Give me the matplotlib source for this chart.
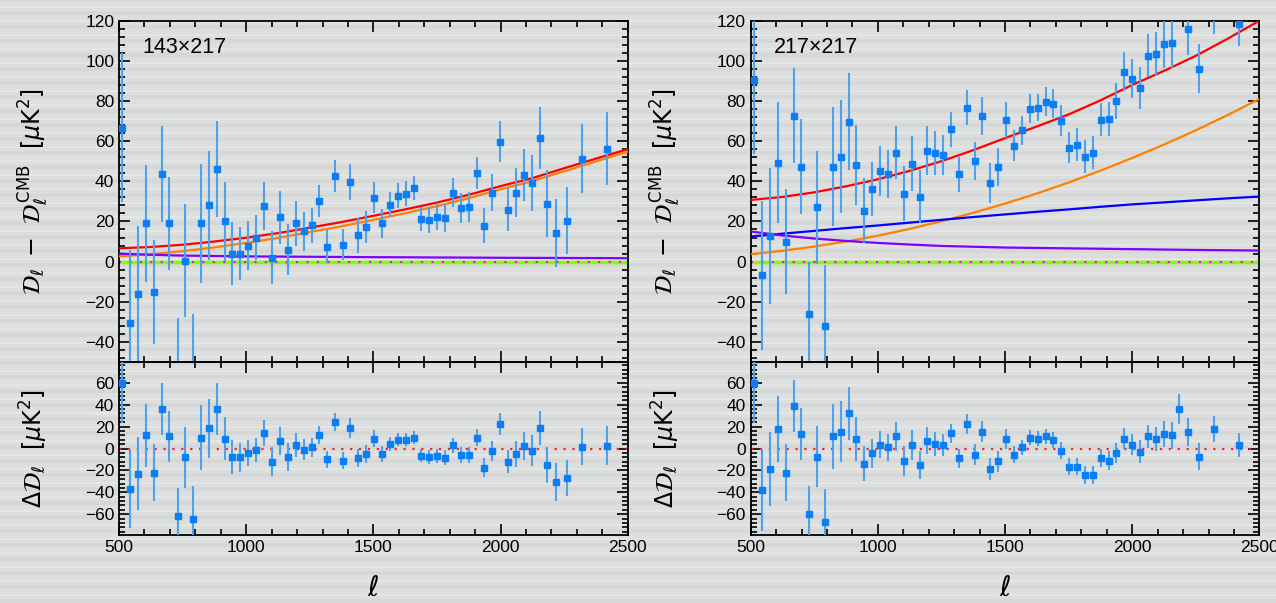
import matplotlib
matplotlib.use("Agg")
import matplotlib.pyplot as plt
from matplotlib.ticker import MultipleLocator, AutoMinorLocator

# multipole bin centres (shared by both spectra)
ell = [513, 544, 575, 606, 638, 670, 698, 730, 760, 791, 822, 855, 886, 915, 945,
       976, 1007, 1039, 1071, 1102, 1134, 1166, 1194, 1226, 1257, 1288, 1318, 1350,
       1382, 1409, 1441, 1472, 1503, 1535, 1566, 1598, 1629, 1660, 1688, 1720, 1751,
       1783, 1814, 1846, 1877, 1908, 1936, 1968, 1999, 2030, 2061, 2093, 2125, 2156,
       2184, 2218, 2262, 2321, 2420]

# 143x217
dl_143 = [66.7, -30.4, -16, 19, -15, 43.6, 19, -54, 0.5, -56, 19, 28, 46, 20, 4, 4, 8,
          12, 27.5, 2, 22, 6, 19, 15, 18, 30, 7.5, 42.8, 8.5, 39.8, 13, 17.4, 31.9, 19,
          28.4, 32.9, 33.9, 36.8, 21.4, 20.9, 22.4, 21.9, 34.4, 26.9, 27.4, 44.3, 17.9,
          34.4, 59.8, 25.9, 34.4, 43.3, 39.3, 61.7, 28.9, 14.4, 20.4, 51.3, 56.3]
err_143 = [37, 36, 33.5, 29, 26, 23.7, 23, 26, 28, 30, 29.6, 27, 24, 19.5, 15.5, 13, 12,
           11, 12, 13, 13, 12.7, 11, 9.7, 8.5, 8, 8, 8, 7.8, 9, 8.5, 8, 7.7, 7, 6.4, 6.1,
           6, 6, 6, 6.5, 6.6, 7, 7, 7.5, 7.5, 8, 8.6, 9.3, 10, 10.6, 12, 13, 14, 15.5,
           16.5, 17, 16.6, 17, 18]
res_143 = [60, -37, -23, 12, -22, 36, 11, -62, -8, -64, 10, 18.5, 36, 9, -8, -8, -4, -1,
           14, -12, 7, -8, 3.5, -1, 1, 12.5, -10, 24, -11, 19, -8.5, -5, 9, -5, 4, 8, 8,
           10, -6.5, -7.5, -7, -8.5, 3, -6, -6, 10, -17.5, -2, 22, -12, -5, 2.5, -2, 19,
           -15, -30.5, -27, 1.5, 2.5]

# 217x217
dl_217 = [90.5, -6.8, 12.8, 49.3, 10, 72.7, 47.3, -26.2, 27, -31.9, 47.3, 52.3, 69.7,
          48, 25.4, 36.3, 45.1, 43.8, 54.3, 33.9, 48.8, 32.4, 55.3, 54.3, 53.2, 66, 43.6,
          76.7, 50.3, 72.7, 39.3, 47.3, 70.7, 57.8, 65.4, 76.2, 76.7, 79.7, 78.7, 70.2,
          56.8, 58.3, 52.3, 54.3, 70.7, 71.2, 80.2, 94.6, 91.1, 86.6, 102.6, 103.2, 108.5,
          109, 136, 116, 96.1, 125.5, 118.3]
err_217 = [37, 37, 34, 30, 26, 23.6, 23.7, 26, 28, 30, 29.5, 28, 24, 20, 16, 13.5, 12.5,
           12, 13, 13.7, 13.8, 13, 12.3, 11, 10, 8.7, 8.7, 8.8, 9.5, 9.5, 10, 9.5, 9, 7.8,
           7.1, 7.1, 6.8, 7.1, 7.3, 7.6, 7.6, 8, 8.3, 8.3, 8.1, 8.5, 9, 9.6, 9.8, 10.5,
           10.8, 11, 12, 12.5, 14, 13, 12.3, 12, 11]
res_217 = [60, -38, -18.5, 17.5, -22, 39, 13.5, -60, -7.5, -67, 11, 15.5, 32, 9, -14,
           -4.5, 3.5, 1, 11, -11.5, 3, -15, 7, 4.5, 3, 14, -9, 22.5, -5.5, 15.5, -18.5,
           -11.5, 9, -5.5, 1, 10, 9, 11, 8, -2, -16.5, -16.5, -24, -24, -9, -11, -4, 9,
           3.5, -3, 11, 9, 13, 12, 36, 15, -7.5, 17.5, 3.5]

ell_fg = [500, 625, 750, 875, 1000, 1125, 1250, 1375, 1500, 1625, 1750, 1875, 2000,
          2125, 2250, 2375, 2500]
tot_143 = [6.6, 7.3, 8.4, 10, 11.9, 14.2, 16.9, 19.7, 22.8, 26, 29.4, 33.3, 37.6, 41.6,
           46.5, 51.3, 56]
cib_143 = [2.6, 3.7, 5.2, 7.1, 9.3, 11.8, 14.7, 17.6, 20.8, 24.1, 27.6, 31.6, 36.0,
           40.1, 45.0, 49.9, 54.7]
ps_143 = [4.0, 3.4, 3.0, 2.8, 2.6, 2.5, 2.4, 2.3, 2.2, 2.15, 2.05, 2.0, 1.9, 1.85, 1.8,
          1.75, 1.7]
tot_217 = [30.7, 32.2, 34.5, 37.5, 41, 45.2, 50, 55.5, 61.5, 67.3, 73.3, 80.3, 88, 95,
           102.5, 111, 120]
cib_217 = [3.7, 5.4, 7.5, 10.0, 12.9, 16.3, 20.1, 24.3, 28.9, 33.9, 39.4, 45.3, 51.6,
           58.3, 65.4, 73.0, 81.0]
poi_217 = [12.5, 13.9, 15.3, 16.7, 18, 19.4, 20.8, 22.2, 23.5, 24.8, 26, 27.3, 28.5,
           29.5, 30.5, 31.5, 32.4]
ksz_217 = [15, 13, 11.5, 10.3, 9.3, 8.5, 7.8, 7.4, 7.0, 6.8, 6.6, 6.4, 6.2, 6.0, 5.8,
           5.65, 5.5]

bg = "#dddfde"
plt.rcParams["font.family"] = ["Liberation Sans", "DejaVu Sans"]
plt.rcParams["mathtext.fontset"] = "dejavusans"

fig = plt.figure(figsize=(12.76, 6.03), dpi=100, facecolor=bg)

# faint horizontal banding of the backdrop
bax = fig.add_axes([0, 0, 1, 1], zorder=-10)
bax.set_xlim(0, 1)
bax.set_ylim(0, 603)
bax.axis("off")
for y0 in range(0, 603, 14):
    bax.axhspan(y0, y0 + 4, color="#d6d8d7", lw=0)
    bax.axhspan(y0 + 7, y0 + 9, color="#e4e6e5", lw=0)

mk_col = "#0a7ef5"
eb_col = "#4ea1ef"


def style(ax, ylo, yhi):
    ax.set_facecolor("none")
    ax.set_xlim(500, 2500)
    ax.set_ylim(ylo, yhi)
    ax.xaxis.set_major_locator(MultipleLocator(500))
    ax.xaxis.set_minor_locator(MultipleLocator(100))
    ax.yaxis.set_major_locator(MultipleLocator(20))
    ax.yaxis.set_minor_locator(AutoMinorLocator(5))
    ax.tick_params(which="both", direction="in", top=True, right=True, width=1.2)
    ax.tick_params(which="major", length=8, labelsize=12.5)
    ax.tick_params(which="minor", length=4)
    for s in ax.spines.values():
        s.set_linewidth(1.3)


panels = [
    (0.0933, "143×217", dl_143, err_143, res_143,
     [(cib_143, "#ff8000"), (ps_143, "#8000ff"), (tot_143, "#ff0000")]),
    (0.5883, "217×217", dl_217, err_217, res_217,
     [(cib_217, "#ff8000"), (poi_217, "#0000ff"), (ksz_217, "#8000ff"), (tot_217, "#ff0000")]),
]

for x0, name, dl, err, res, curves in panels:
    ax = fig.add_axes([x0, 0.3997, 0.3987, 0.566])
    rx = fig.add_axes([x0, 0.1127, 0.3987, 0.287])
    style(ax, -50, 120)
    style(rx, -79, 79)
    ax.tick_params(labelbottom=False)

    ax.axhline(0, color="#7fff00", lw=2.5, zorder=2)
    ax.axhline(0, color="#ff00ff", lw=1.5, ls=(0, (1, 4)), zorder=2)
    for yv, c in curves:
        ax.plot(ell_fg, yv, color=c, lw=1.6, zorder=3)
    ax.errorbar(ell, dl, yerr=err, fmt="s", ms=5, color=mk_col, ecolor=eb_col,
                elinewidth=1.5, capsize=0, zorder=4)
    ax.text(0.045, 0.92, name, transform=ax.transAxes, fontsize=15.5, va="center")
    ax.set_ylabel(r"$\mathcal{D}_\ell\ -\ \mathcal{D}_\ell^{\,\rm CMB}\ \ [\mu{\rm K}^2]$",
                  fontsize=17)
    ax.yaxis.set_label_coords(-0.135, 0.5)

    rx.axhline(0, color="#ff2020", lw=1.6, ls=(0, (1, 3)), zorder=2)
    rx.errorbar(ell, res, yerr=err, fmt="s", ms=5, color=mk_col, ecolor=eb_col,
                elinewidth=1.5, capsize=0, zorder=4)
    rx.set_ylabel(r"$\Delta\mathcal{D}_\ell\ \ [\mu{\rm K}^2]$", fontsize=17)
    rx.yaxis.set_label_coords(-0.135, 0.5)
    rx.set_xlabel(r"$\ell$", fontsize=20, labelpad=15)

fig.savefig("out.png", dpi=100, facecolor=bg)
